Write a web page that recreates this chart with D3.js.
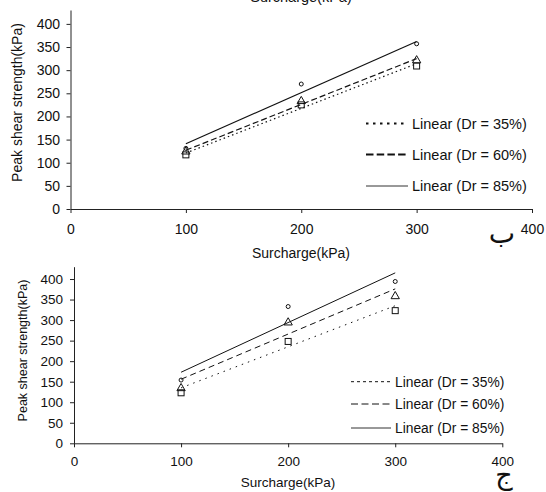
<!DOCTYPE html>
<html>
<head>
<meta charset="utf-8">
<script src="https://cdn.jsdelivr.net/npm/d3@7"></script>
<style>
  body { margin: 0; background: #fff; }
  svg { display: block; }
  text { font-family: Arial, "Liberation Sans", sans-serif; fill: #111; }
</style>
</head>
<body>
<div id="screen"></div>
<script>
// data
const surcharge = [100, 200, 300];
const fitX = [100, 300];
const xTicks = [0, 100, 200, 300, 400];
const yTicks = [0, 50, 100, 150, 200, 250, 300, 350, 400];
const legendLabels = ["Linear (Dr = 35%)", "Linear (Dr = 60%)", "Linear (Dr = 85%)"];

// panel ب
const topDr35 = [117, 225, 309];
const topDr60 = [124, 233, 321];
const topDr85 = [131, 270, 357];
const topFit35 = [121, 314];
const topFit60 = [127, 325];
const topFit85 = [141, 362];

// panel ج
const botDr35 = [123, 248, 323];
const botDr60 = [134, 294, 358];
const botDr85 = [154, 333, 394];
const botFit35 = [135, 335];
const botFit60 = [156, 376];
const botFit85 = [173, 415];

const W = 546, H = 492;
var svg = d3.select("#screen").append("svg").attr("width", W).attr("height", H);

// cut-off title left over at the very top
svg.append("text").text("Surcharge(kPa)")
    .attr("x", 301).attr("y", 2).attr("text-anchor", "middle")
    .style("font-size", "14.5px");

const drawPanel = function(p) {
    var x = d3.scaleLinear().domain([0, 400]).range([p.x0, p.x1]);
    var y = d3.scaleLinear().domain([0, 430]).range([p.y0, p.y1]);
    var g = svg.append("g");

    var xa = g.append("g").attr("transform", "translate(0," + p.y0 + ")")
        .call(d3.axisBottom(x).tickValues(xTicks).tickSize(4).tickSizeOuter(0).tickPadding(p.xPad));
    var ya = g.append("g").attr("transform", "translate(" + p.x0 + ",0)")
        .call(d3.axisLeft(y).tickValues(yTicks).tickSize(4).tickSizeOuter(0).tickPadding(p.yPad));
    [xa, ya].forEach(a => {
        a.selectAll("path,line").attr("stroke", "#222");
        a.selectAll("text").style("font-size", p.font + "px").attr("fill", "#111")
            .style("font-family", "Arial, 'Liberation Sans', sans-serif");
    });

    // fitted lines
    var fits = [p.fit35, p.fit60, p.fit85];
    var line = d3.line().x((d, i) => x(fitX[i])).y(d => y(d));
    fits.forEach((f, i) => {
        g.append("path").datum(f).attr("d", line)
            .attr("fill", "none").attr("stroke", "#111")
            .attr("stroke-width", p.lineW[i])
            .attr("stroke-dasharray", p.dash[i]);
    });

    // markers
    var sq = p.sq;
    g.selectAll(".sq").data(p.dr35).enter().append("rect")
        .attr("x", (d, i) => x(surcharge[i]) - sq / 2)
        .attr("y", d => y(d) - sq / 2)
        .attr("width", sq).attr("height", sq)
        .attr("fill", "none").attr("stroke", "#111").attr("stroke-width", 1);
    var tri = d3.symbol().type(d3.symbolTriangle).size(p.triSize);
    g.selectAll(".tri").data(p.dr60).enter().append("path")
        .attr("d", tri)
        .attr("transform", (d, i) => "translate(" + x(surcharge[i]) + "," + y(d) + ")")
        .attr("fill", "none").attr("stroke", "#111").attr("stroke-width", 1);
    g.selectAll(".circ").data(p.dr85).enter().append("circle")
        .attr("cx", (d, i) => x(surcharge[i]))
        .attr("cy", d => y(d))
        .attr("r", 2)
        .attr("fill", "none").attr("stroke", "#111").attr("stroke-width", 1);

    // legend
    legendLabels.forEach((lab, i) => {
        var ly = p.legY[i];
        g.append("line")
            .attr("x1", p.legX0).attr("x2", p.legX1)
            .attr("y1", ly).attr("y2", ly)
            .attr("stroke", i == 2 ? "#333" : "#111")
            .attr("stroke-width", p.legW[i])
            .attr("stroke-dasharray", p.legDash[i]);
        g.append("text").text(lab)
            .attr("x", p.legX1 + 4).attr("y", ly).attr("dy", "0.35em")
            .style("font-size", p.legFont + "px");
    });

    // axis titles
    g.append("text").text("Surcharge(kPa)")
        .attr("x", p.xtX).attr("y", p.xtY).attr("text-anchor", "middle")
        .style("font-size", p.font + "px");
    g.append("text").text("Peak shear strength(kPa)")
        .attr("transform", "translate(" + p.ytX + "," + p.ytY + ") rotate(-90)")
        .attr("text-anchor", "middle")
        .style("font-size", p.ytFont + "px");

    // panel letter
    g.append("text").text(p.letter)
        .attr("x", p.letX).attr("y", p.letY).attr("text-anchor", "middle")
        .style("font-family", "'DejaVu Sans', sans-serif")
        .style("font-size", p.letFont + "px");
};

drawPanel({
    x0: 70.5, x1: 532, y0: 209, y1: 10,
    font: 14, xPad: 11, yPad: 6.5,
    fit35: topFit35, fit60: topFit60, fit85: topFit85,
    dr35: topDr35, dr60: topDr60, dr85: topDr85,
    lineW: [1.2, 1.2, 1.2], dash: ["1.5,3", "6,3", null],
    sq: 6, triSize: 30,
    legY: [123.5, 154.5, 186], legX0: 366, legX1: 408,
    legW: [2.2, 2.2, 1], legDash: ["2.5,4.5", "7.5,3.2", null], legFont: 14.5,
    xtX: 301, xtY: 258, ytX: 22, ytY: 102.5, ytFont: 14,
    letter: "ب", letX: 502, letY: 243, letFont: 28
});

drawPanel({
    x0: 74, x1: 502.3, y0: 443.3, y1: 266.7,
    font: 13.5, xPad: 9.5, yPad: 7,
    fit35: botFit35, fit60: botFit60, fit85: botFit85,
    dr35: botDr35, dr60: botDr60, dr85: botDr85,
    lineW: [1, 1, 1], dash: ["1.5,5", "6,4", null],
    sq: 6, triSize: 30,
    legY: [381.7, 404, 428], legX0: 351, legX1: 391,
    legW: [1, 1, 1], legDash: ["3,3", "7,3.5", null], legFont: 13.8,
    xtX: 288, xtY: 487, ytX: 27, ytY: 350.5, ytFont: 12.5,
    letter: "ج", letX: 504, letY: 484, letFont: 27
});
</script>
</body>
</html>
